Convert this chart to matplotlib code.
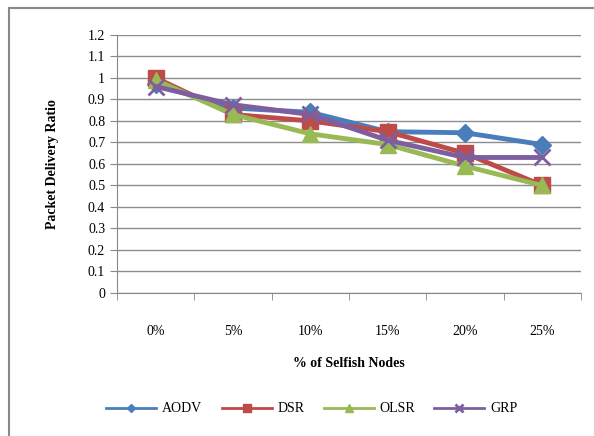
import numpy as np
import matplotlib.pyplot as plt
from matplotlib.patches import Rectangle

plt.rcParams['font.family'] = ['Liberation Serif', 'DejaVu Serif']

categories = ['0%', '5%', '10%', '15%', '20%', '25%']
aodv = [0.97, 0.86, 0.84, 0.75, 0.745, 0.69]
dsr = [1.0, 0.83, 0.80, 0.75, 0.65, 0.50]
olsr = [0.99, 0.83, 0.74, 0.69, 0.59, 0.50]
grp = [0.96, 0.875, 0.83, 0.71, 0.63, 0.63]

fig = plt.figure(figsize=(5.94, 4.36), dpi=100)
# chart border (runs off the right/bottom edges like the source)
fig.patches.append(Rectangle((0.015, -0.05), 1.1, 1.032, transform=fig.transFigure,
                             fill=False, edgecolor='#888888', linewidth=1.5))
ax = fig.add_axes([0.197, 0.328, 0.781, 0.592])

x = np.arange(len(categories))
ax.plot(x, aodv, color='#4a7ebb', lw=3.5, marker='D', ms=9, label='AODV')
ax.plot(x, dsr, color='#be4b48', lw=3.5, marker='s', ms=11, label='DSR')
ax.plot(x, olsr, color='#98b954', lw=3.5, marker='^', ms=12, label='OLSR')
ax.plot(x, grp, color='#7d5fa0', lw=3.5, marker='x', ms=11, mew=2, label='GRP')

ax.set_xlim(-0.5, len(categories) - 0.5)
ax.set_ylim(0, 1.2)
ax.set_yticks(np.arange(0, 1.21, 0.1))
ax.set_yticklabels(['0', '0.1', '0.2', '0.3', '0.4', '0.5', '0.6', '0.7', '0.8', '0.9', '1', '1.1', '1.2'])
ax.set_xticks(x)
ax.set_xticklabels(categories)
ax.set_xticks(np.arange(-0.5, len(categories), 1), minor=True)
ax.tick_params(axis='x', which='major', length=0, pad=23, labelsize=10)
ax.tick_params(axis='x', which='minor', length=5, color='#888888')
ax.tick_params(axis='y', length=5, color='#888888', labelsize=10)
ax.grid(axis='y', color='#8c8c8c', lw=1)
ax.set_axisbelow(True)
for s in ['top', 'right']:
    ax.spines[s].set_visible(False)
for s in ['left', 'bottom']:
    ax.spines[s].set_color('#888888')

ax.set_ylabel('Packet Delivery Ratio', fontweight='bold', fontsize=10, labelpad=21)
ax.set_xlabel('% of Selfish Nodes', fontweight='bold', fontsize=10, labelpad=14)

handles, labels = ax.get_legend_handles_labels()
leg = fig.legend(handles, labels, loc='center', bbox_to_anchor=(0.525, 0.062), ncol=4,
                 frameon=False, fontsize=10, handlelength=3.6, handletextpad=0.4,
                 columnspacing=1.4, markerscale=0.5)
for h in leg.legend_handles:
    h.set_linewidth(2)

fig.savefig('out.png', dpi=100)
